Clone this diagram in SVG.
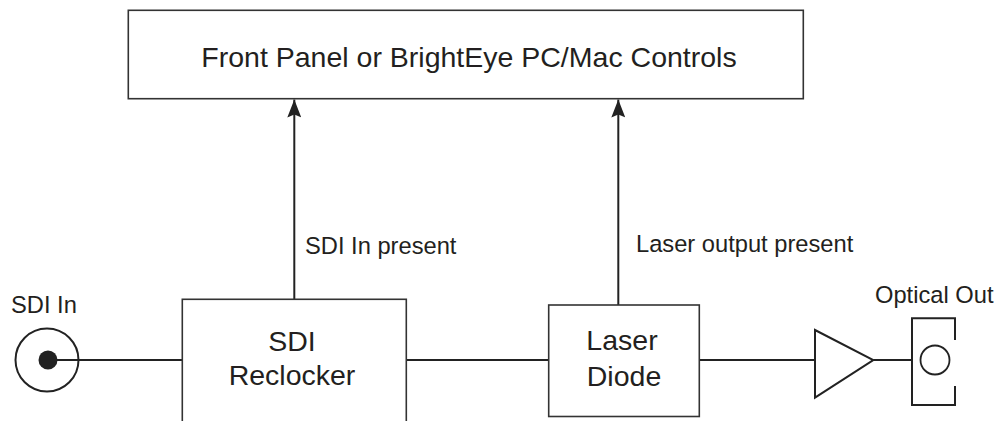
<svg xmlns="http://www.w3.org/2000/svg" width="995" height="421" viewBox="0 0 995 421">
<defs>
<style>
.box{fill:#fff;stroke:#333;stroke-width:1.6}
.ln{fill:none;stroke:#222;stroke-width:2}
.t{font-family:"Liberation Sans",Arial,sans-serif;fill:#231f20}
.big{font-size:28.5px}
.lab{font-size:23.7px}
</style>
<marker id="ah" viewBox="0 0 18 14" refX="18" refY="7" markerWidth="18" markerHeight="14" markerUnits="userSpaceOnUse" orient="auto">
<path d="M0,0 L18,7 L0,14 L3,7 Z" fill="#222"/>
</marker>
</defs>
<rect width="995" height="421" fill="#fff"/>
<g id="connectors">
<line class="ln" x1="47" y1="360" x2="182.3" y2="360"/>
<line class="ln" x1="406.3" y1="360" x2="548.7" y2="360"/>
<line class="ln" x1="699.3" y1="360" x2="815" y2="360"/>
<line class="ln" x1="873.3" y1="360" x2="912" y2="360"/>
<line class="ln" x1="294.3" y1="299.3" x2="294.3" y2="99.5" marker-end="url(#ah)"/>
<line class="ln" x1="618.3" y1="305" x2="618.3" y2="99.5" marker-end="url(#ah)"/>
<text class="t lab" x="305" y="254">SDI In present</text>
<text class="t lab" x="636" y="252">Laser output present</text>
</g>
<g id="controls">
<rect class="box" x="128.3" y="10.3" width="675" height="88.4"/>
<text class="t big" x="469" y="66.5" text-anchor="middle">Front Panel or BrightEye PC/Mac Controls</text>
</g>
<g id="sdi-in">
<circle cx="47" cy="360" r="31.5" fill="none" stroke="#222" stroke-width="2"/>
<circle cx="48" cy="360" r="9.5" fill="#222"/>
<text class="t lab" x="11" y="313">SDI In</text>
</g>
<g id="reclocker">
<rect class="box" x="182.3" y="299.3" width="224" height="140"/>
<text class="t big" x="292" y="350.5" text-anchor="middle">SDI</text>
<text class="t big" x="292" y="385" text-anchor="middle">Reclocker</text>
</g>
<g id="laser">
<rect class="box" x="548.7" y="305" width="150.6" height="111.5"/>
<text class="t big" x="622" y="350" text-anchor="middle">Laser</text>
<text class="t big" x="624" y="385.5" text-anchor="middle">Diode</text>
</g>
<g id="amp">
<polygon points="815,330 873.3,360 815,397.7" fill="none" stroke="#222" stroke-width="2" stroke-linejoin="miter"/>
</g>
<g id="optical-out">
<path class="ln" d="M955,340 V318.3 H912 V405 H955 V386"/>
<circle cx="935" cy="360" r="14.5" fill="none" stroke="#222" stroke-width="1.8"/>
<text class="t lab" x="875" y="302.5">Optical Out</text>
</g>
</svg>
